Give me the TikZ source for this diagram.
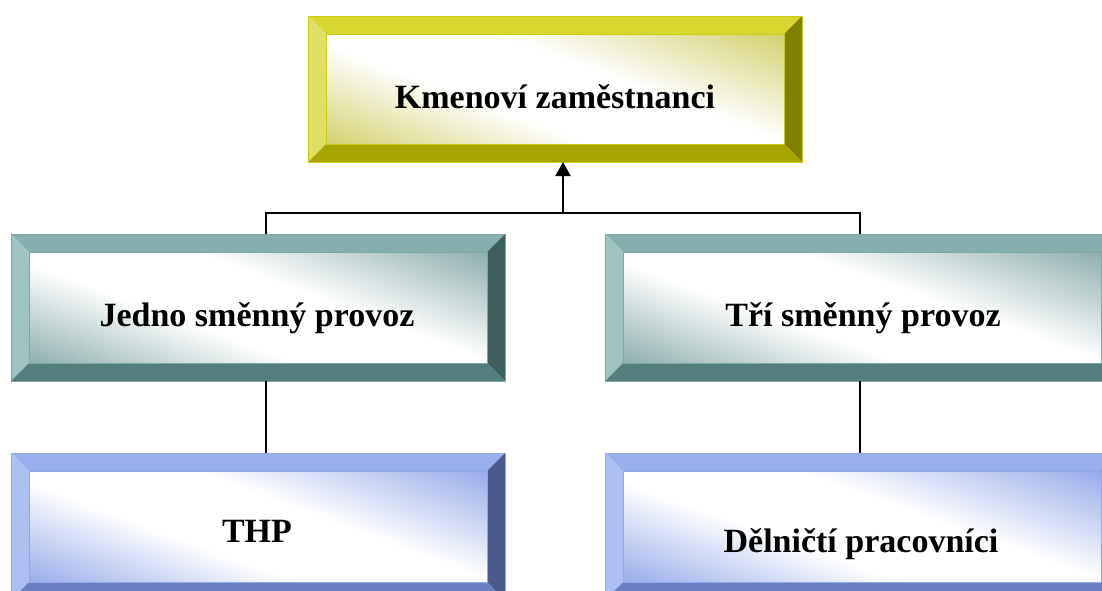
\documentclass[tikz,border=0pt]{standalone}
\usepackage{fontspec}
\setmainfont{Liberation Serif}
\usetikzlibrary{calc,arrows.meta}
% colours
\definecolor{ytop}{HTML}{D8D630}\definecolor{yleft}{HTML}{E0DE66}\definecolor{yright}{HTML}{7F7F00}\definecolor{ybot}{HTML}{A8A500}\definecolor{ytint}{HTML}{CFCB5E}\definecolor{yline}{HTML}{CCCC10}
\definecolor{ttop}{HTML}{85AFAE}\definecolor{tleft}{HTML}{9DC3C2}\definecolor{tright}{HTML}{3E5F5E}\definecolor{tbot}{HTML}{527E7D}\definecolor{ttint}{HTML}{7FA5A4}\definecolor{tline}{HTML}{7AA8A7}
\definecolor{btop}{HTML}{97AFEB}\definecolor{bleft}{HTML}{ADC0F2}\definecolor{bright}{HTML}{4A5A8E}\definecolor{bbot}{HTML}{6A80C0}\definecolor{btint}{HTML}{8AA2E8}\definecolor{bline}{HTML}{8FA8EA}
\pgfdeclarehorizontalshading{yshade}{100bp}{color(0bp)=(ytint); color(12bp)=(ytint); color(40bp)=(white); color(58bp)=(white); color(88bp)=(ytint); color(100bp)=(ytint)}
\pgfdeclarehorizontalshading{tshade}{100bp}{color(0bp)=(ttint); color(12bp)=(ttint); color(40bp)=(white); color(58bp)=(white); color(88bp)=(ttint); color(100bp)=(ttint)}
\pgfdeclarehorizontalshading{bshade}{100bp}{color(0bp)=(btint); color(12bp)=(btint); color(40bp)=(white); color(58bp)=(white); color(88bp)=(btint); color(100bp)=(btint)}
\tikzset{
  boxshape/.style={draw=none,inner sep=0pt,outer sep=0pt,rectangle},
  lbl/.style={anchor=base,font=\fontsize{34}{40}\selectfont\bfseries,inner sep=0pt},
  conn/.style={draw=black,line width=2pt},
  arrowconn/.style={conn,-{Triangle[length=14pt,width=15pt]}}
}
\newdimen\bxa \newdimen\bya \newdimen\bxb \newdimen\byb
% #1 node name, #2 colour prefix
\newcommand\BevelBox[2]{%
  \path (#1.north west) coordinate (o1) (#1.north east) coordinate (o2)
        (#1.south east) coordinate (o3) (#1.south west) coordinate (o4)
        ([shift={(18pt,-18pt)}]#1.north west) coordinate (i1)
        ([shift={(-18pt,-18pt)}]#1.north east) coordinate (i2)
        ([shift={(-18pt,18pt)}]#1.south east) coordinate (i3)
        ([shift={(18pt,18pt)}]#1.south west) coordinate (i4);
  \fill[#2top] (o1)--(o2)--(i2)--(i1)--cycle;
  \fill[#2left] (o1)--(i1)--(i4)--(o4)--cycle;
  \fill[#2right] (o2)--(o3)--(i3)--(i2)--cycle;
  \fill[#2bot] (o4)--(i4)--(i3)--(o3)--cycle;
  \pgfextractx{\bxa}{\pgfpointanchor{i4}{center}}%
  \pgfextracty{\bya}{\pgfpointanchor{i4}{center}}%
  \pgfextractx{\bxb}{\pgfpointanchor{i2}{center}}%
  \pgfextracty{\byb}{\pgfpointanchor{i2}{center}}%
  \pgfmathsetmacro\sxf{(\bxb-\bxa)/100}%
  \pgfmathsetmacro\syf{(\byb-\bya)/100}%
  \begin{scope}[transform canvas={shift={(\bxa,\bya)},xscale=\sxf,yscale=\syf}]
    \shade[shading=#2shade,shading angle=33] (0pt,0pt) rectangle (100pt,100pt);
  \end{scope}
  \draw[#2line,line width=0.8pt] (o1) rectangle (o3);
  \draw[#2line,line width=0.6pt] (i1) rectangle (i3);
}
\begin{document}
\begin{tikzpicture}[x=1pt,y=-1pt]
\useasboundingbox (0,0) rectangle (1102,590);
\clip (0,0) rectangle (1102,590);
% box frames
\node[boxshape,minimum width=494pt,minimum height=146pt] (km) at (555,89) {};
\node[boxshape,minimum width=494pt,minimum height=147pt] (jl) at (258,307.5) {};
\node[boxshape,minimum width=514pt,minimum height=147pt] (tr) at (862,307.5) {};
\node[boxshape,minimum width=494pt,minimum height=147pt] (thp) at (258,526.5) {};
\node[boxshape,minimum width=514pt,minimum height=147pt] (del) at (862,526.5) {};
\BevelBox{km}{y}
\BevelBox{jl}{t}
\BevelBox{tr}{t}
\BevelBox{thp}{b}
\BevelBox{del}{b}
% labels
\node[lbl] (kmT) at (555,108) {Kmenoví zaměstnanci};
\node[lbl] (jlT) at (257,326) {Jedno směnný provoz};
\node[lbl] (trT) at (863,326) {Tří směnný provoz};
\node[lbl] (thpT) at (257,542) {THP};
\node[lbl] (delT) at (861,552) {Dělničtí pracovníci};
% connectors
\coordinate (bL) at (266,213);
\coordinate (bR) at (860,213);
\coordinate (bM) at (563,213);
\draw[conn] (bL |- jl.north) -- (bL) -- (bR) -- (bR |- tr.north);
\draw[arrowconn] (bM) -- (bM |- km.south);
\draw[conn] (bL |- jl.south) -- (bL |- thp.north);
\draw[conn] (bR |- tr.south) -- (bR |- del.north);
\end{tikzpicture}
\end{document}
